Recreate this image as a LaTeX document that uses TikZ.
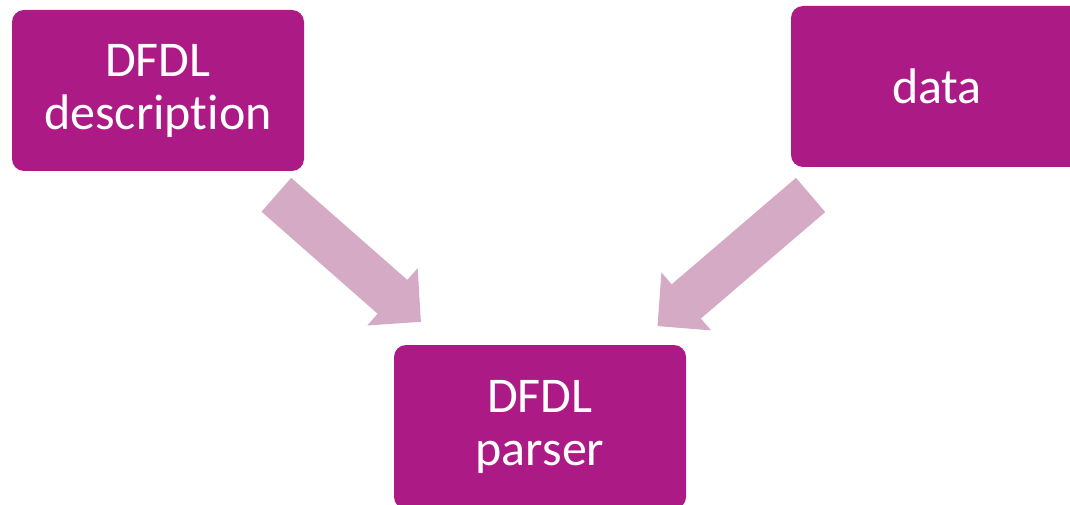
\documentclass[tikz,border=0pt]{standalone}
\usepackage{fontspec}
\setmainfont{Carlito}[Ligatures={NoCommon,NoRequired,NoContextual},
    Contextuals=NoAlternate]
\usetikzlibrary{arrows.meta,calc}

\definecolor{boxpurple}{HTML}{AC1A86}
\definecolor{arrowpink}{HTML}{D4AAC4}

\begin{document}
\begin{tikzpicture}[x=1pt,y=-1pt,
    block/.style={rectangle, rounded corners=12pt, fill=boxpurple, text=white,
        minimum width=292pt, minimum height=161pt, outer sep=0pt, align=center,
        font=\fontsize{50}{53}\selectfont},
    flow/.style={arrowpink, line width=45pt,
        -{Triangle[length=38pt,width=74pt]}}]

    % --- frame ---
    \useasboundingbox (0,0) rectangle (1070,505);
    \clip (0,0) rectangle (1070,505);

    % inputs at the top
    \node[block] (desc) at (158,90.5) {DFDL\\description};
    \node[block] (data) at (937,86.5) {data};

    % parser at the bottom
    \node[block, minimum height=164pt] (parser) at (540,427) {DFDL\\parser};

    % block arrows into the parser
    \draw[flow, shorten <=36pt, shorten >=35pt] (desc) -- (parser);
    \draw[flow, shorten <=43pt, shorten >=29pt] (data) -- (parser);

\end{tikzpicture}
\end{document}
